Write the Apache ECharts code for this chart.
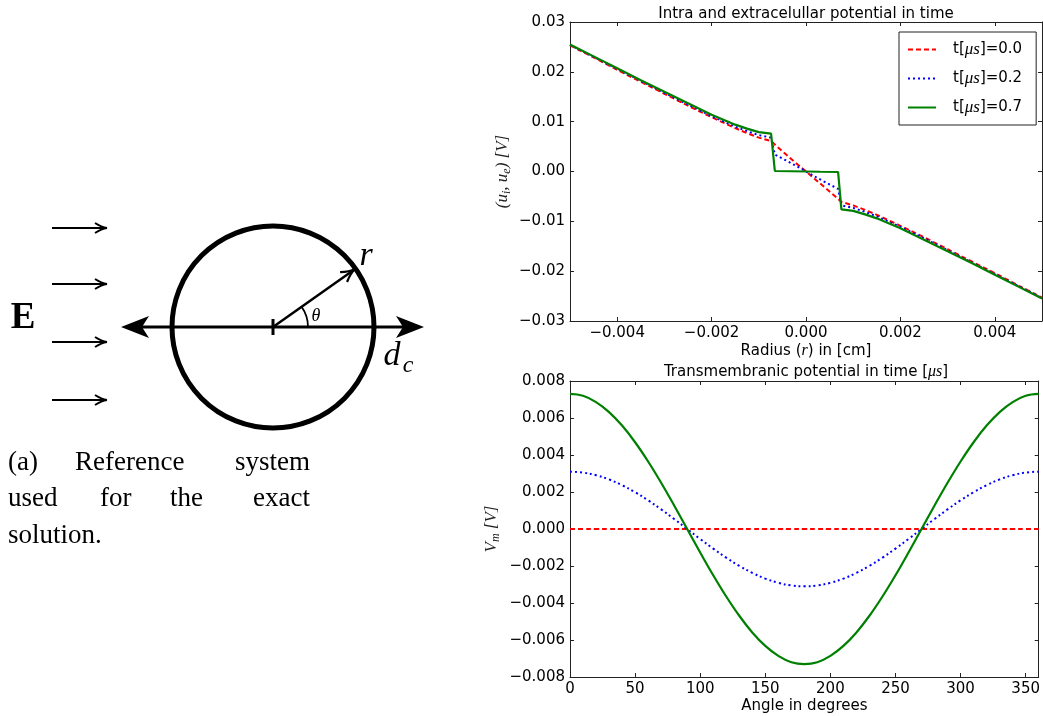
<!DOCTYPE html>
<html>
<head>
<meta charset="utf-8">
<script src="https://cdn.jsdelivr.net/npm/echarts@6/dist/echarts.min.js"></script>
<style>
html,body{margin:0;padding:0;background:#fff;}
#chart{width:1043px;height:716px;}
</style>
</head>
<body>
<div id="chart"></div>
<script>
// ---------- DATA ----------
// Top panel: potential along the radius (cm) for three times
const radius = [-0.005, -0.0045, -0.004, -0.0035, -0.003, -0.0025, -0.002, -0.0015, -0.00125, -0.001, -0.00074, -0.00066, -0.0003, 0, 0.0003, 0.00068, 0.00075, 0.001, 0.00125, 0.0015, 0.002, 0.0025, 0.003, 0.0035, 0.004, 0.0045, 0.005];
const potT00 = [0.0253, 0.0229, 0.0204, 0.0180, 0.0156, 0.0132, 0.0109, 0.0087, 0.0077, 0.0068, 0.0061, 0.0054, 0.0024, 0, -0.0024, -0.0055, -0.0061, -0.0068, -0.0077, -0.0087, -0.0109, -0.0132, -0.0156, -0.0180, -0.0204, -0.0229, -0.0253];
const potT02 = [0.0254, 0.0230, 0.0206, 0.0182, 0.0158, 0.0134, 0.0111, 0.0090, 0.0081, 0.0073, 0.0068, 0.0034, 0.0016, 0, -0.0016, -0.0035, -0.0068, -0.0073, -0.0081, -0.0090, -0.0111, -0.0134, -0.0158, -0.0182, -0.0206, -0.0230, -0.0254];
const potT07 = [0.0255, 0.0231, 0.0207, 0.0183, 0.0160, 0.0137, 0.0114, 0.0094, 0.0086, 0.0079, 0.0076, 0.0001, 0.00005, 0, -0.00005, -0.0001, -0.0076, -0.0079, -0.0086, -0.0094, -0.0114, -0.0137, -0.0160, -0.0183, -0.0207, -0.0231, -0.0255];
const legendLabels = ['0.0', '0.2', '0.7'];

// Bottom panel: transmembrane potential vs angle (degrees)
const angles = [0,10,20,30,40,50,60,70,80,90,100,110,120,130,140,150,160,170,180,190,200,210,220,230,240,250,260,270,280,290,300,310,320,330,340,350,360];
const vmT00 = [0,0,0,0,0,0,0,0,0,0,0,0,0,0,0,0,0,0,0,0,0,0,0,0,0,0,0,0,0,0,0,0,0,0,0,0,0];
const vmT02 = [0.0031,0.00305,0.00291,0.00268,0.00237,0.00199,0.00155,0.00106,0.00054,0,-0.00054,-0.00106,-0.00155,-0.00199,-0.00237,-0.00268,-0.00291,-0.00305,-0.0031,-0.00305,-0.00291,-0.00268,-0.00237,-0.00199,-0.00155,-0.00106,-0.00054,0,0.00054,0.00106,0.00155,0.00199,0.00237,0.00268,0.00291,0.00305,0.0031];
const vmT07 = [0.0073,0.0072,0.00686,0.00632,0.00559,0.00469,0.00365,0.0025,0.00127,0,-0.00127,-0.0025,-0.00365,-0.00469,-0.00559,-0.00632,-0.00686,-0.0072,-0.0073,-0.0072,-0.00686,-0.00632,-0.00559,-0.00469,-0.00365,-0.0025,-0.00127,0,0.00127,0.0025,0.00365,0.00469,0.00559,0.00632,0.00686,0.0072,0.0073];

// Tick values
const topXTicks = [-0.004, -0.002, 0, 0.002, 0.004];
const topYTicks = [-0.03, -0.02, -0.01, 0, 0.01, 0.02, 0.03];
const botXTicks = [0, 50, 100, 150, 200, 250, 300, 350];
const botYTicks = [-0.008, -0.006, -0.004, -0.002, 0, 0.002, 0.004, 0.006, 0.008];

// ---------- HELPERS ----------
const SANS = '"DejaVu Sans", sans-serif';
const SERIF = '"Liberation Serif", "DejaVu Serif", serif';
const fmt = d => v => (v < -1e-12 ? '\u2212' : '') + Math.abs(v).toFixed(d);
const pairs = (xs, ys) => xs.map((x, i) => [x, ys[i]]);

const lab = {color: '#000', fontFamily: SANS, fontSize: 15};
function mainAxis(pos, grid, min, max, ticks, d, name, nameGap, extra) {
  return Object.assign({
    type: 'value', gridIndex: grid, position: pos, min: min, max: max,
    axisLine: {show: true, onZero: false, lineStyle: {color: '#222', width: 1}},
    axisTick: {show: true, inside: true, length: 4, customValues: ticks, lineStyle: {color: '#222'}},
    axisLabel: {show: true, customValues: ticks, formatter: fmt(d), margin: 5, color: '#000', fontFamily: SANS, fontSize: 15, hideOverlap: false},
    splitLine: {show: false},
    name: name, nameLocation: 'middle', nameGap: nameGap
  }, extra || {});
}
function mirrorAxis(pos, grid, min, max, ticks) {
  return {
    type: 'value', gridIndex: grid, position: pos, min: min, max: max,
    axisLine: {show: true, onZero: false, lineStyle: {color: '#222', width: 1}},
    axisTick: {show: true, inside: true, length: 4, customValues: ticks, lineStyle: {color: '#222'}},
    axisLabel: {show: false}, splitLine: {show: false}
  };
}

// ---------- LEFT DIAGRAM (illustration) ----------
const diagram = [];
function openHead(tx, ty, ang, L, W, lw) {
  const dx = Math.cos(ang), dy = Math.sin(ang), px = -dy, py = dx;
  [1, -1].forEach(s => {
    diagram.push({type: 'bezierCurve', shape: {
      x1: tx - L*dx + s*W*px, y1: ty - L*dy + s*W*py,
      x2: tx, y2: ty,
      cpx1: tx - 0.45*L*dx + s*0.15*W*px, cpy1: ty - 0.45*L*dy + s*0.15*W*py
    }, style: {stroke: '#000', lineWidth: lw, fill: null}});
  });
}
// field arrows
[228, 284, 342, 400].forEach(y => {
  diagram.push({type: 'line', shape: {x1: 52, y1: y, x2: 106, y2: y}, style: {stroke: '#000', lineWidth: 2}});
  openHead(107, y, 0, 12, 5, 2);
});
// circle
diagram.push({type: 'circle', shape: {cx: 273, cy: 327, r: 101}, style: {stroke: '#000', lineWidth: 5, fill: null}});
// horizontal double arrow
diagram.push({type: 'line', shape: {x1: 140, y1: 327, x2: 405, y2: 327}, style: {stroke: '#000', lineWidth: 3}});
diagram.push({type: 'polygon', shape: {points: [[424,327],[396,316],[403,327],[396,338]]}, style: {fill: '#000'}});
diagram.push({type: 'polygon', shape: {points: [[121,327],[149,316],[142,327],[149,338]]}, style: {fill: '#000'}});
// centre tick
diagram.push({type: 'line', shape: {x1: 273, y1: 319, x2: 273, y2: 335}, style: {stroke: '#000', lineWidth: 3}});
// radial arrow
const ra = Math.atan2(269 - 327, 355 - 273);
diagram.push({type: 'line', shape: {x1: 273, y1: 327, x2: 353, y2: 270.5}, style: {stroke: '#000', lineWidth: 2.5}});
openHead(355, 269, ra, 14, 6, 2.2);
// theta arc
diagram.push({type: 'arc', shape: {cx: 273, cy: 327, r: 35, startAngle: ra, endAngle: 0, clockwise: true}, style: {stroke: '#000', lineWidth: 1.8, fill: null}});
// diagram labels
function txt(x, y, text, font, align) {
  diagram.push({type: 'text', x: x, y: y, style: {text: text, font: font, fill: '#000',
    align: align || 'center', textAlign: align || 'center', verticalAlign: 'middle', textVerticalAlign: 'middle'}});
}
txt(23, 318, 'E', 'bold 37px ' + SERIF);
txt(316, 316, '\u03b8', 'italic 18px ' + SERIF);
txt(366, 256, 'r', 'italic 34px ' + SERIF);
txt(392, 356, 'd', 'italic 34px ' + SERIF);
txt(408, 366, 'c', 'italic 24px ' + SERIF);
// caption (justified)
const capFont = '27px ' + SERIF;
txt(8, 463, '(a)', capFont, 'left');
txt(75, 463, 'Reference', capFont, 'left');
txt(310, 463, 'system', capFont, 'right');
txt(8, 499, 'used', capFont, 'left');
txt(100, 499, 'for', capFont, 'left');
txt(170, 499, 'the', capFont, 'left');
txt(310, 499, 'exact', capFont, 'right');
txt(8, 536, 'solution.', capFont, 'left');
// panel titles
diagram.push({type: 'text', x: 806, y: 14, style: {text: 'Intra and extracelullar potential in time', font: '15px ' + SANS, fill: '#000',
  align: 'center', textAlign: 'center', verticalAlign: 'middle', textVerticalAlign: 'middle'}});
diagram.push({type: 'text', x: 806, y: 372, style: {text: '{a|Transmembranic potential in time [}{m|\u03bcs}{a|]}',
  align: 'center', textAlign: 'center', verticalAlign: 'middle', textVerticalAlign: 'middle',
  rich: {a: {fontFamily: SANS, fontSize: 15, fill: '#000', color: '#000'}, m: {fontFamily: SERIF, fontStyle: 'italic', fontSize: 16, fill: '#000', color: '#000'}}}});

// ---------- CHART ----------
const chart = echarts.init(document.getElementById('chart'), null, {renderer: 'canvas'});
const lineDefs = [
  {name: 't0', color: '#ff0000', type: [5, 3], width: 2},
  {name: 't2', color: '#0000ff', type: [2, 3], width: 2},
  {name: 't7', color: '#008000', type: 'solid', width: 2.2}
];
const topData = [potT00, potT02, potT07];
const botData = [vmT00, vmT02, vmT07];

const series = [];
lineDefs.forEach((d, i) => {
  series.push({type: 'line', name: d.name, xAxisIndex: 0, yAxisIndex: 0, data: pairs(radius, topData[i]),
    symbol: 'none', showSymbol: false, animation: false, z: 3 + i,
    lineStyle: {color: d.color, width: d.width, type: d.type}, itemStyle: {color: d.color}});
});
lineDefs.forEach((d, i) => {
  series.push({type: 'line', name: 'b' + d.name, xAxisIndex: 2, yAxisIndex: 2, data: pairs(angles, botData[i]),
    symbol: 'none', showSymbol: false, animation: false, smooth: 0.4, z: 3 + i,
    lineStyle: {color: d.color, width: d.width, type: d.type}, itemStyle: {color: d.color}});
});

const option = {
  backgroundColor: '#fff',
  animation: false,
  grid: [
    {left: 570, top: 22, width: 472, height: 299, containLabel: false},
    {left: 570, top: 381, width: 472, height: 296, containLabel: false}
  ],
  xAxis: [
    mainAxis('bottom', 0, -0.005, 0.005, topXTicks, 3, '{a|Radius (}{m|r}{a|) in [cm]}', 22,
      {nameTextStyle: {rich: {a: lab, m: {color: '#000', fontFamily: SERIF, fontStyle: 'italic', fontSize: 16}}}}),
    mirrorAxis('top', 0, -0.005, 0.005, topXTicks),
    mainAxis('bottom', 1, 0, 360, botXTicks, 0, 'Angle in degrees', 22,
      {nameTextStyle: {color: '#000', fontFamily: SANS, fontSize: 15}}),
    mirrorAxis('top', 1, 0, 360, botXTicks)
  ],
  yAxis: [
    mainAxis('left', 0, -0.03, 0.03, topYTicks, 2, '{n|(u}{s|i}{n|, u}{s|e}{n|) [V]}', 57,
      {nameRotate: 90, nameTextStyle: {rich: {
        n: {color: '#222', fontFamily: SERIF, fontStyle: 'italic', fontSize: 17},
        s: {color: '#222', fontFamily: SERIF, fontStyle: 'italic', fontSize: 12, padding: [8, 0, 0, 0]}}}}),
    mirrorAxis('right', 0, -0.03, 0.03, topYTicks),
    mainAxis('left', 1, -0.008, 0.008, botYTicks, 3, '{n|V}{s|m}{n| [V]}', 68,
      {nameRotate: 90, nameTextStyle: {rich: {
        n: {color: '#222', fontFamily: SERIF, fontStyle: 'italic', fontSize: 17},
        s: {color: '#222', fontFamily: SERIF, fontStyle: 'italic', fontSize: 12, padding: [8, 0, 0, 0]}}}}),
    mirrorAxis('right', 1, -0.008, 0.008, botYTicks)
  ],
  legend: {
    data: ['t0', 't2', 't7'],
    orient: 'vertical', left: 899, top: 32,
    padding: [9, 14, 9, 8], itemWidth: 28, itemHeight: 14, itemGap: 12,
    borderColor: '#222', borderWidth: 1, backgroundColor: '#fff',
    selectedMode: false,
    itemStyle: {opacity: 0},
    formatter: n => '{a|t[}{m|\u03bcs}{a|]=' + legendLabels[['t0','t2','t7'].indexOf(n)] + '}',
    textStyle: {padding: [0, 0, 0, 12], rich: {
      a: {color: '#000', fontFamily: SANS, fontSize: 15},
      m: {color: '#000', fontFamily: SERIF, fontStyle: 'italic', fontSize: 17}}}
  },
  graphic: {elements: diagram},
  series: series
};
chart.setOption(option);
</script>
</body>
</html>
